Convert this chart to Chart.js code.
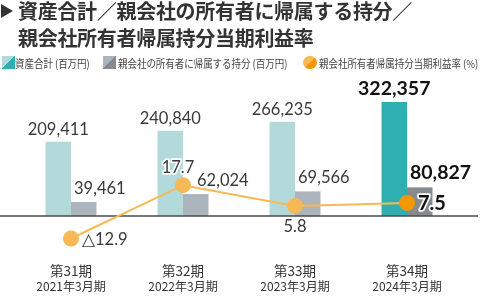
<!DOCTYPE html>
<html><head><meta charset="utf-8">
<script src="https://cdn.jsdelivr.net/npm/chart.js@4/dist/chart.umd.min.js"></script>
<style>
html,body{margin:0;padding:0;background:#fff;width:480px;height:296px;overflow:hidden;}
#wrap{position:relative;width:480px;height:296px;}
#c{position:absolute;left:0;top:0;}
.title{position:absolute;left:18px;font-family:"Noto Sans CJK JP";font-weight:700;font-size:20px;color:#333;white-space:nowrap;line-height:24px;letter-spacing:-0.3px;}
.tri{position:absolute;left:1px;top:4px;width:0;height:0;border-left:12px solid #333;border-top:7.5px solid transparent;border-bottom:7.5px solid transparent;}
.icon{position:absolute;top:56px;width:12.5px;height:12.5px;}
.ltxt{position:absolute;top:56px;font-family:"Noto Sans CJK JP";font-size:11px;line-height:14px;color:#444;white-space:nowrap;transform:scaleX(0.86);transform-origin:left center;}
</style>
</head><body>
<div id="wrap">
<canvas id="c" width="480" height="296"></canvas>
<div class="tri"></div>
<div class="title" style="top:-1px">資産合計／親会社の所有者に帰属する持分／</div>
<div class="title" style="top:26px">親会社所有者帰属持分当期利益率</div>
<div id="legend"></div>
</div>
<script>
// ---- data ----
const categories = ['第31期', '第32期', '第33期', '第34期'];
const periods = ['2021年3月期', '2022年3月期', '2023年3月期', '2024年3月期'];
const totalAssets = [209411, 240840, 266235, 322357];
const ownersEquity = [39461, 62024, 69566, 80827];
const roe = [-12.9, 17.7, 5.8, 7.5];
const seriesNames = ['資産合計 (百万円)', '親会社の所有者に帰属する持分 (百万円)', '親会社所有者帰属持分当期利益率 (%)'];

// ---- styles ----
const tealLight = '#b3dada', tealDark = '#2eb0b3';
const grayLight = '#adb5bc', grayDark = '#878b8f';
const orangeLight = '#f7b955', orangeDark = '#f39800';
const hi = categories.length - 1;
const pick = (a, b) => categories.map((_, i) => i === hi ? b : a);

// legend (HTML)
const legendDefs = [
  {left: 2, tl: 15, c1: tealLight, c2: tealDark, round: false},
  {left: 103, tl: 118, c1: grayLight, c2: grayDark, round: false},
  {left: 303, tl: 319, c1: orangeLight, c2: orangeDark, round: true}
];
const leg = document.getElementById('legend');
legendDefs.forEach((d, i) => {
  const ic = document.createElement('div');
  ic.className = 'icon';
  ic.style.left = d.left + 'px';
  ic.style.background = `linear-gradient(135deg, ${d.c1} 50%, ${d.c2} 50%)`;
  if (d.round) { ic.style.borderRadius = '50%'; ic.style.width = '13.5px'; ic.style.height = '13.5px'; ic.style.top = '55.5px'; }
  leg.appendChild(ic);
  const t = document.createElement('div');
  t.className = 'ltxt';
  t.style.left = d.tl + 'px';
  t.textContent = seriesNames[i];
  leg.appendChild(t);
});

const fmtNum = v => v.toLocaleString('en-US');
const fmtRate = v => (v < 0 ? '△' + Math.abs(v).toFixed(1) : v.toFixed(1));

// label placement options (per point)
const rateLabelPos = ['right', 'above', 'below', 'right'];
const equityLabelShift = [0, 11, 0, 0];

function drawText(ctx, txt, x, y, font, color, align, baseline) {
  ctx.font = font;
  ctx.textAlign = align;
  ctx.textBaseline = baseline;
  ctx.lineJoin = 'round';
  ctx.strokeStyle = '#fff';
  ctx.lineWidth = 3.5;
  ctx.strokeText(txt, x, y);
  ctx.fillStyle = color;
  ctx.fillText(txt, x, y);
}

const labelPlugin = {
  id: 'valueLabels',
  afterDatasetDraw(chart, args) {
    if (args.index === 0) {
      const ctx = chart.ctx;
      const y = chart.scales.y.getPixelForValue(0);
      ctx.save();
      ctx.strokeStyle = '#4a4a4a';
      ctx.lineWidth = 1.5;
      ctx.beginPath();
      ctx.moveTo(0, y);
      ctx.lineTo(478, y);
      ctx.stroke();
      ctx.restore();
    }
  },
  afterDatasetsDraw(chart) {
    const ctx = chart.ctx;
    ctx.save();
    const regFont = '400 16.5px Lato';
    const boldFont = '700 19.5px Lato';
    const regColor = '#3a3a3a', boldColor = '#111';
    chart.getDatasetMeta(0).data.forEach((el, i) => {
      const b = i === hi;
      drawText(ctx, fmtNum(totalAssets[i]), el.x, el.y - 7, b ? boldFont : regFont, b ? boldColor : regColor, 'center', 'alphabetic');
    });
    chart.getDatasetMeta(1).data.forEach((el, i) => {
      const b = i === hi;
      const left = el.x - el.width / 2 + 3 + equityLabelShift[i];
      drawText(ctx, fmtNum(ownersEquity[i]), left, el.y - 8, b ? boldFont : regFont, b ? boldColor : regColor, 'left', 'alphabetic');
    });
    chart.getDatasetMeta(2).data.forEach((el, i) => {
      const b = i === hi;
      const f = b ? '700 20px Lato' : regFont;
      const c = b ? boldColor : regColor;
      const txt = fmtRate(roe[i]);
      const p = rateLabelPos[i];
      if (p === 'right') drawText(ctx, txt, el.x + 11, el.y + 1, f, c, 'left', 'middle');
      else if (p === 'above') drawText(ctx, txt, el.x - 5, el.y - 12, f, c, 'center', 'alphabetic');
      else drawText(ctx, txt, el.x, el.y + 21, f, c, 'center', 'middle');
    });
    ctx.restore();
  }
};

new Chart(document.getElementById('c'), {
  type: 'bar',
  data: {
    labels: categories,
    datasets: [
      {label: seriesNames[0], data: totalAssets, backgroundColor: pick(tealLight, tealDark), yAxisID: 'y', order: 1,
       barPercentage: 1, categoryPercentage: 0.455},
      {label: seriesNames[1], data: ownersEquity, backgroundColor: pick(grayLight, grayDark), yAxisID: 'y', order: 1,
       barPercentage: 1, categoryPercentage: 0.455},
      {type: 'line', label: seriesNames[2], data: roe, yAxisID: 'y2', order: 0,
       borderColor: orangeLight, borderWidth: 2, tension: 0,
       pointRadius: 8, pointHoverRadius: 8, pointBorderWidth: 0,
       pointBackgroundColor: pick(orangeLight, orangeDark)}
    ]
  },
  options: {
    responsive: false,
    animation: false,
    events: [],
    layout: {padding: {left: 15, right: 17, top: 76, bottom: 2}},
    plugins: {legend: {display: false}, tooltip: {enabled: false}, title: {display: false}},
    scales: {
      x: {type: 'category', position: 'bottom', weight: 1,
          grid: {display: false, drawTicks: false}, border: {display: false},
          afterFit: s => { s.height = 21; },
          ticks: {font: {family: 'Noto Sans CJK JP', size: 13.5, lineHeight: 1.2}, color: '#333', padding: 5, maxRotation: 0, autoSkip: false}},
      x2: {type: 'category', labels: periods, position: 'bottom', weight: 2,
           grid: {display: false, drawTicks: false}, border: {display: false},
           afterFit: s => { s.height = 15; },
           ticks: {font: {family: 'Noto Sans CJK JP', size: 12, lineHeight: 1.2}, color: '#333', padding: 0, maxRotation: 0, autoSkip: false}},
      y: {display: false, min: -118650, max: 395500},
      y2: {display: false, min: -24.1, max: 80.36}
    }
  },
  plugins: [labelPlugin]
});
</script>
</body></html>
